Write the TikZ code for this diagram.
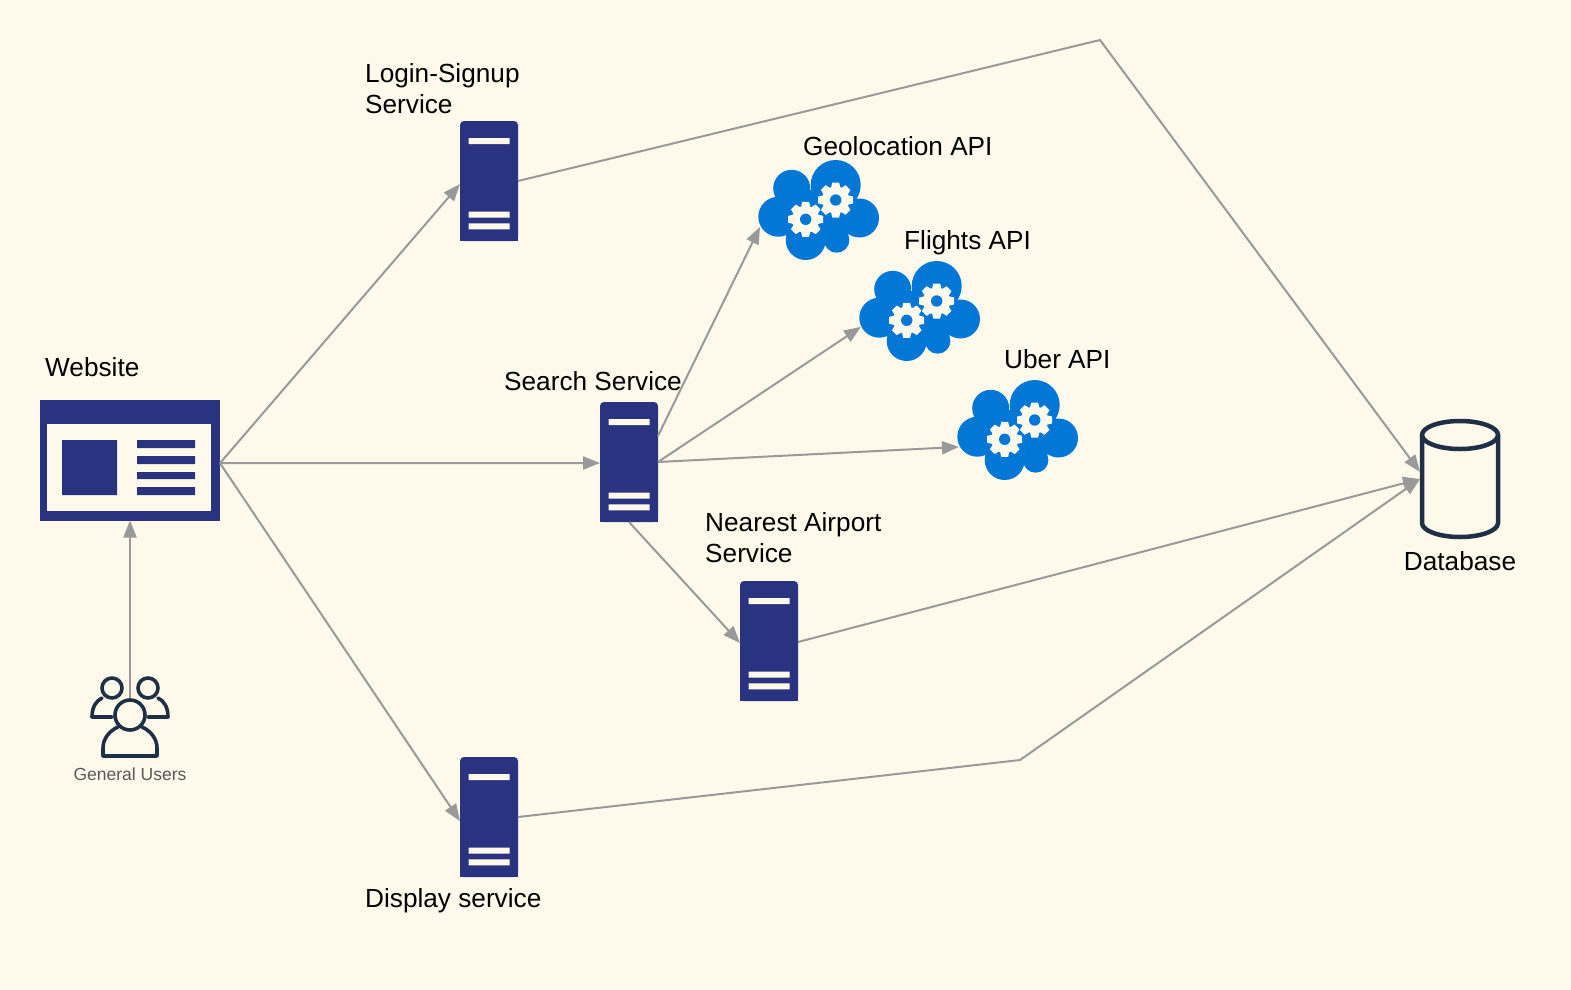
\documentclass[tikz,border=0pt]{standalone}
\usepackage{fontspec}
\setmainfont{Liberation Sans}
\usetikzlibrary{arrows.meta,calc}
\definecolor{bgcream}{HTML}{FFF9EB}
\definecolor{navy}{HTML}{2A337F}
\definecolor{cloudblue}{HTML}{0277D6}
\definecolor{inkdark}{HTML}{1F2F46}
\definecolor{linkgray}{HTML}{999999}
\newcommand{\gearart}[2]{%
  \begin{scope}[shift={(#1,#2)}]
    \fill[bgcream] (0,0) circle[radius=13.5pt];
    \foreach \a in {0,45,...,315}{\fill[bgcream,rotate=\a] (-5,-11) -- (-3.4,-17.5) -- (3.4,-17.5) -- (5,-11) -- cycle;}
    \fill[cloudblue] (0,0) circle[radius=5.7pt];
  \end{scope}}
\newcommand{\cloudart}[3]{%
  \begin{scope}[shift={(#2,#3)}]
    \fill[cloudblue] (-40.7,6.7) circle[radius=20pt] (-27.3,-21.7) circle[radius=18.5pt]
      (16.7,-25) circle[radius=25pt] (40.5,8) circle[radius=19.5pt]
      (-13.3,30) circle[radius=20pt] (17.7,30) circle[radius=12.7pt]
      (-30,-20) rectangle (30,24);
    \gearart{-13.3}{9.3}
    \gearart{16.7}{-10}
  \end{scope}
  \node[cloudbox] (#1) at (#2,#3) {};}
\newcommand{\serverart}[3]{%
  \node[serverbox] (#1) at (#2,#3) {};
  \begin{scope}[shift={(#2,#3)}]
    \fill[navy] (-29,0) rectangle (29,60);
    \fill[bgcream] (-20.5,-43) rectangle (20.5,-37) (-20.5,30.7) rectangle (20.5,36.7)
      (-20.5,42.3) rectangle (20.5,48.3);
  \end{scope}}
\tikzset{
  serverbox/.style={fill=navy,rounded corners=4pt,inner sep=0,outer sep=0,minimum width=58pt,minimum height=120pt},
  cloudbox/.style={inner sep=0,outer sep=0,minimum width=118pt,minimum height=100pt},
  link/.style={draw=linkgray,line width=2pt,-{Triangle[length=17pt,width=13pt]},line join=miter},
  label/.style={font=\fontsize{26.2}{31}\selectfont,text=black,inner sep=0,anchor=west,align=left},
  inkline/.style={draw=inkdark,line width=3.6pt,line cap=round,line join=round},
}
\begin{document}
\begin{tikzpicture}[x=1pt,y=-1pt]
\useasboundingbox (0,0) rectangle (1571,990);
\fill[bgcream] (0,0) rectangle (1571,990);
% website
\node[fill=navy,inner sep=0,outer sep=0,minimum width=180pt,minimum height=121pt] (website) at (130,460) {};
\fill[bgcream] (46.7,424.3) rectangle (211,510.7);
\fill[navy] (62,440) rectangle (117,495)
  (137,440) rectangle (195,448) (137,456) rectangle (195,464)
  (137,472) rectangle (195,479) (137,487) rectangle (195,495);
% servers
\serverart{login}{489}{181}
\serverart{search}{629}{462}
\serverart{nearest}{769}{641}
\serverart{display}{489}{817}
% clouds
\cloudart{geo}{819}{210}
\cloudart{flights}{920}{311}
\cloudart{uber}{1018}{430}
% database
\node[inner sep=0,outer sep=0,minimum width=80pt,minimum height=118pt] (db) at (1460,479) {};
\draw[draw=inkdark,line width=4.5pt] (1422,435) -- (1422,523) arc[start angle=180,end angle=360,x radius=38,y radius=-14] -- (1498,435);
\draw[draw=inkdark,line width=4.5pt] (1460,435) ellipse[x radius=38,y radius=14];
% users
\draw[inkline] (112,688) circle[radius=10pt] (148,688) circle[radius=10pt];
\draw[inkline] (112,717) -- (92,717) .. controls (92,707) and (96,701) .. (102,698);
\draw[inkline] (148,717) -- (168,717) .. controls (168,707) and (164,701) .. (158,698);
\draw[inkline] (103,756) -- (157,756) -- (157,748) .. controls (157,739) and (151,731) .. (142,727);
\draw[inkline] (103,756) -- (103,748) .. controls (103,739) and (109,731) .. (118,727);
\node[circle,draw=inkdark,line width=3.6pt,fill=none,inner sep=0,minimum size=30pt] (users) at (130,715) {};
% labels
\node[label] (lwebsite) at (45,367) {Website};
\node[label] (llogin) at (365,89) {Login-Signup\\Service};
\node[label] (lgeo) at (803,146) {Geolocation API};
\node[label] (lflights) at (904,243) {Flights API};
\node[label] (luber) at (1004,359) {Uber API};
\node[label] (lsearch) at (504,381) {Search Service};
\node[label] (lnearest) at (705,538) {Nearest Airport\\Service};
\node[label] (ldisplay) at (365,901) {Display service};
\node[label,anchor=center] (ldb) at (1460,561) {Database};
\node[font=\fontsize{17.5}{20}\selectfont,text=black!65,inner sep=0] (lusers) at (130,774) {General Users};
% connectors
\coordinate (bendtop) at (1100,40);
\coordinate (bendlow) at (1020,760);
\draw[link] (users.north) -- (website.south);
\draw[link] (website.358) -- (login.186);
\draw[link] (website.358) -- (search.182);
\draw[link] (website.358) -- (display.188);
\draw[link] (search.42) -- (geo.196);
\draw[link] (search.east) -- (flights.195);
\draw[link] (search.east) -- (uber.196);
\draw[link] (search.south) -- (nearest.184);
\draw[link] (login.east) -- (bendtop) -- (db.170);
\draw[link] (nearest.358) -- (db.west);
\draw[link] (display.east) -- (bendlow) -- (db.west);
\end{tikzpicture}
\end{document}
